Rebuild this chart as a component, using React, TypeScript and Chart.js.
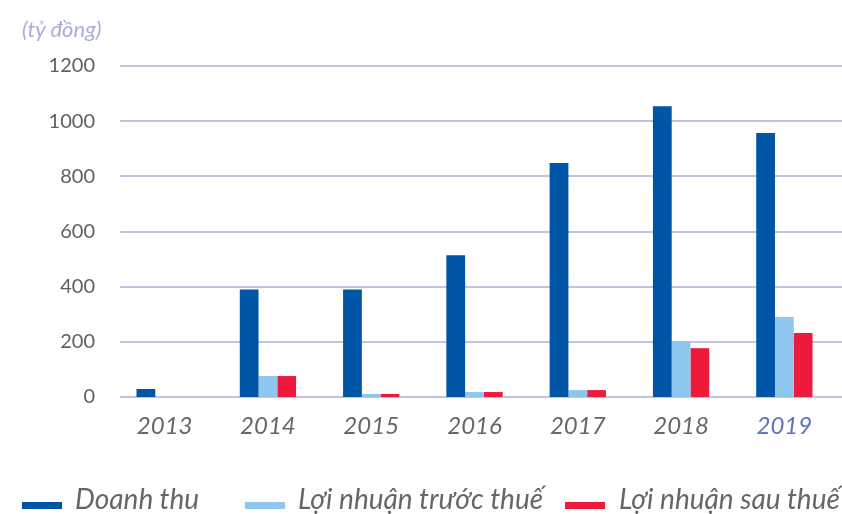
import React, { useEffect, useRef } from "react";
import { Chart, registerables } from "chart.js";

Chart.register(...registerables);

const years = ["2013", "2014", "2015", "2016", "2017", "2018", "2019"];
const doanhThu = [29, 390, 390, 514, 848, 1054, 957];
const lnTruocThue = [0, 76, 11, 18, 25, 202, 290];
const lnSauThue = [0, 76, 11, 18, 25, 177, 232];
const yTicks = [0, 200, 400, 600, 800, 1000, 1200];
const seriesNames = ["Doanh thu", "Lợi nhuận trước thuế", "Lợi nhuận sau thuế"];
const seriesColors = ["#0055a6", "#8fc6ed", "#ee1a3c"];
const unitLabel = "(tỷ đồng)";

const FONT = "Lato, 'Noto Sans', sans-serif";

const gridPlugin = {
  id: "customGrid",
  beforeDatasetsDraw(chart: any) {
    const ctx = chart.ctx;
    const y = chart.scales.y;
    ctx.save();
    ctx.strokeStyle = "#c1c3e4";
    ctx.lineWidth = 2;
    yTicks.forEach((v) => {
      const py = Math.round(y.getPixelForValue(v));
      ctx.beginPath();
      ctx.moveTo(120, py);
      ctx.lineTo(chart.width, py);
      ctx.stroke();
    });
    ctx.restore();
  },
};

export default function App() {
  const ref = useRef<HTMLCanvasElement | null>(null);

  useEffect(() => {
    if (!ref.current) return;
    const chart = new Chart(ref.current, {
      type: "bar",
      data: {
        labels: years,
        datasets: [doanhThu, lnTruocThue, lnSauThue].map((d, i) => ({
          label: seriesNames[i],
          data: d,
          backgroundColor: seriesColors[i],
          borderWidth: 0,
          categoryPercentage: 0.545,
          barPercentage: 1,
        })),
      },
      options: {
        animation: false,
        responsive: false,
        maintainAspectRatio: false,
        layout: { padding: { top: 66, right: 6, bottom: 0, left: 0 } },
        plugins: {
          legend: { display: false },
          tooltip: { enabled: false },
        },
        scales: {
          x: {
            grid: { display: false },
            border: { display: false },
            ticks: {
              padding: 7,
              font: { family: FONT, size: 24, style: "italic" },
              color: years.map((_, i) => (i === years.length - 1 ? "#5b74bb" : "#666666")),
            },
            afterFit: (s: any) => {
              s.height = 117;
            },
          },
          y: {
            min: 0,
            max: 1200,
            grid: { display: false },
            border: { display: false },
            ticks: {
              stepSize: 200,
              padding: 10,
              font: { family: FONT, size: 20 },
              color: "#5f5f5f",
              callback: (v: any) => String(v),
            },
            afterFit: (s: any) => {
              s.width = 113;
            },
          },
        },
      },
      plugins: [gridPlugin],
    });
    return () => chart.destroy();
  }, []);

  const legendItems = [
    { box: 22, text: 75 },
    { box: 245, text: 298 },
    { box: 565, text: 619 },
  ];

  return (
    <div
      style={{
        position: "fixed",
        left: 0,
        top: 0,
        width: 842,
        height: 514,
        background: "#ffffff",
        overflow: "hidden",
      }}
    >
      <canvas ref={ref} width={842} height={514} style={{ position: "absolute", left: 0, top: 0 }} />
      <div
        style={{
          position: "absolute",
          left: 22,
          top: 16,
          fontFamily: FONT,
          fontStyle: "italic",
          fontSize: 22,
          color: "#a9acd9",
          lineHeight: "26px",
          whiteSpace: "nowrap",
        }}
      >
        {unitLabel}
      </div>
      {legendItems.map((it, i) => (
        <React.Fragment key={i}>
          <div
            style={{
              position: "absolute",
              left: it.box,
              top: 502,
              width: 40,
              height: 7,
              background: seriesColors[i],
            }}
          />
          <div
            style={{
              position: "absolute",
              left: it.text,
              top: 481,
              fontFamily: FONT,
              fontStyle: "italic",
              fontSize: 28,
              lineHeight: "34px",
              color: "#666666",
              whiteSpace: "nowrap",
            }}
          >
            {seriesNames[i]}
          </div>
        </React.Fragment>
      ))}
    </div>
  );
}
